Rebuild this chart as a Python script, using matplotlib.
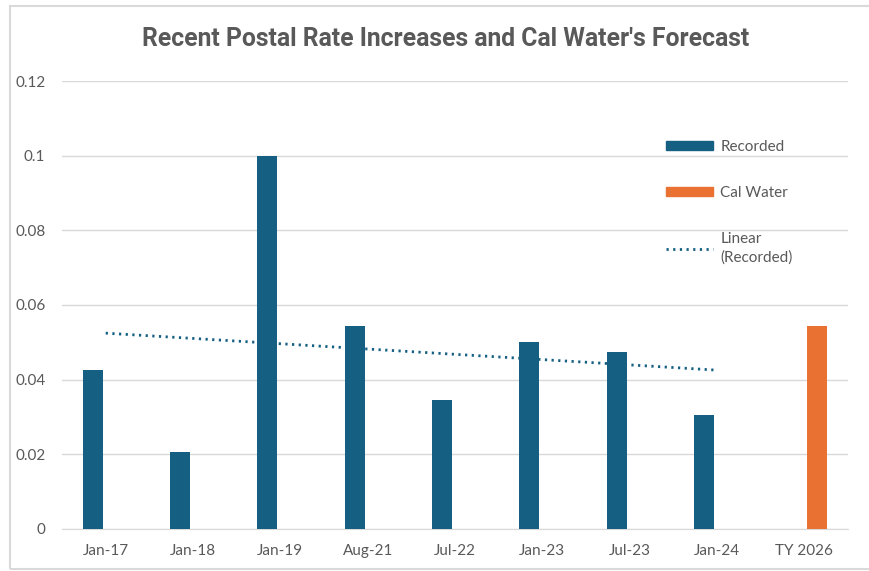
import numpy as np
import matplotlib.pyplot as plt
from matplotlib.patches import Rectangle, Patch
from matplotlib.lines import Line2D

categories = ["Jan-17", "Jan-18", "Jan-19", "Aug-21", "Jul-22", "Jan-23", "Jul-23", "Jan-24", "TY 2026"]
recorded = [0.0425, 0.0205, 0.1, 0.0545, 0.0345, 0.05, 0.0475, 0.0305, np.nan]
cal_water = [np.nan, np.nan, np.nan, np.nan, np.nan, np.nan, np.nan, np.nan, 0.0545]
yticks = [0, 0.02, 0.04, 0.06, 0.08, 0.1, 0.12]
ytick_labels = ["0", "0.02", "0.04", "0.06", "0.08", "0.1", "0.12"]

blue = "#156082"
orange = "#e97132"
grey = "#595959"

plt.rcParams["font.family"] = ["Lato", "DejaVu Sans"]

fig = plt.figure(figsize=(8.7, 5.71), dpi=100)
ax = fig.add_axes([0.0713, 0.0736, 0.9034, 0.7845])

x = np.arange(len(categories))
ax.bar(x - 0.15, recorded, width=0.23, color=blue, zorder=3)
ax.bar(x + 0.15, cal_water, width=0.23, color=orange, zorder=3)

# linear trendline over recorded values
xr = x[:8]
yr = np.array(recorded[:8])
k, b = np.polyfit(xr + 1, yr, 1)
ax.plot(xr, k * (xr + 1) + b, color=blue, linestyle=(0, (0.8, 1.6)), linewidth=2, zorder=4)

ax.set_xlim(-0.5, len(categories) - 0.5)
ax.set_ylim(0, 0.12)
ax.set_yticks(yticks)
ax.set_yticklabels(ytick_labels)
ax.set_xticks(x)
ax.set_xticklabels(categories)
ax.tick_params(axis="both", length=0, labelsize=11, colors=grey)
ax.tick_params(axis="x", pad=11)
ax.tick_params(axis="y", pad=12)
ax.grid(axis="y", color="#d9d9d9", linewidth=1, zorder=0)
for s in ["top", "right", "left"]:
    ax.spines[s].set_visible(False)
ax.spines["bottom"].set_color("#d9d9d9")

handles = [
    Patch(color=blue),
    Patch(color=orange),
    Line2D([0], [0], color=blue, linestyle=(0, (0.8, 1.6)), linewidth=2),
]
labels = ["Recorded", "Cal Water", "Linear\n(Recorded)"]
leg = ax.legend(handles, labels, loc="upper left", bbox_to_anchor=(0.751, 0.9),
                frameon=False, fontsize=11, labelcolor=grey, handlelength=3.1,
                handleheight=0.55, handletextpad=0.45, labelspacing=2.1)
leg.get_texts()[2].set_linespacing(1.45)

fig.text(0.512, 0.932, "Recent Postal Rate Increases and Cal Water's Forecast",
         ha="center", va="center", fontsize=17.8, fontweight="bold", color=grey,
         family=["Roboto", "DejaVu Sans"])

fig.patches.append(Rectangle((10 / 870, 2 / 571), 1.0, 563 / 571, transform=fig.transFigure,
                             fill=False, edgecolor="#d9d9d9", linewidth=1.5))

fig.savefig("out.png", dpi=100)
